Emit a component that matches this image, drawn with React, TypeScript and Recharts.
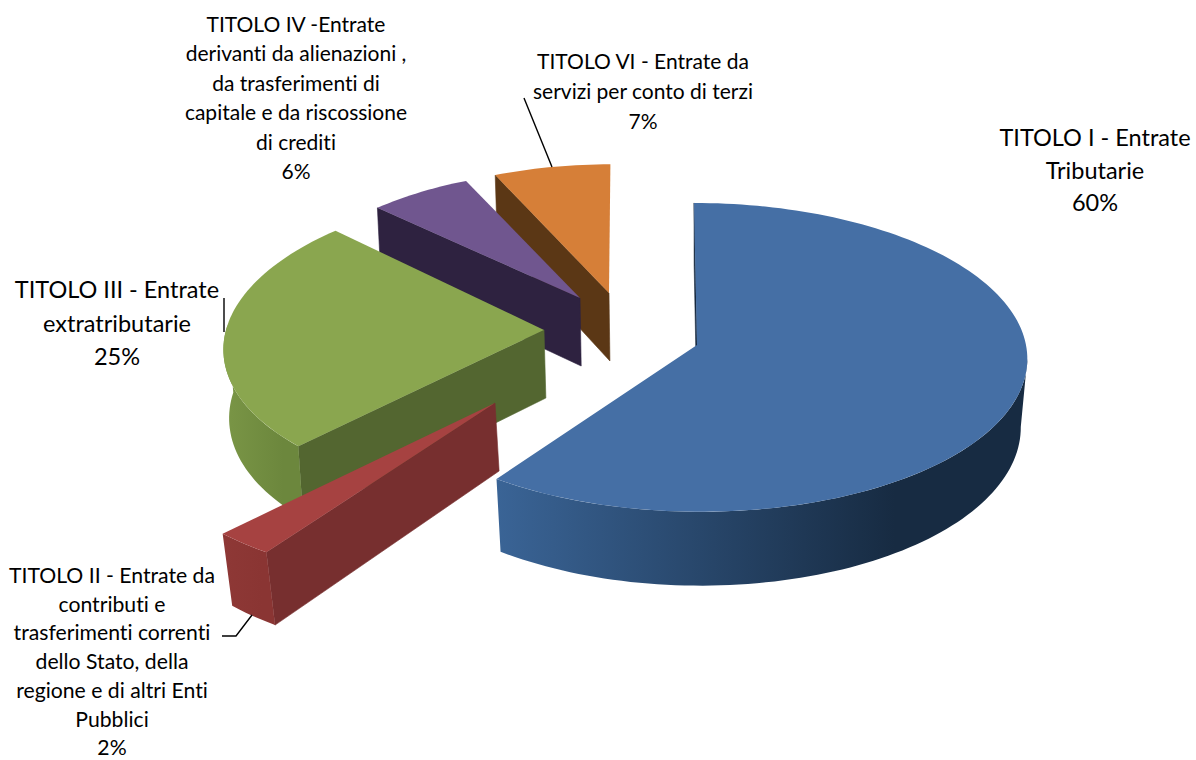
import React from "react";
import { PieChart, Pie } from "recharts";

const sliceNames = ["I", "II", "III", "IV", "VI"];
const sliceValues = [59.8, 2.4, 24.9, 6.1, 6.8];
const sliceLabels = [
  ["TITOLO I - Entrate", "Tributarie"],
  ["TITOLO II - Entrate da", "contributi e", "trasferimenti correnti", "dello Stato, della", "regione e di altri Enti", "Pubblici"],
  ["TITOLO III - Entrate", "extratributarie"],
  ["TITOLO IV -Entrate", "derivanti da alienazioni ,", "da trasferimenti di", "capitale e da riscossione", "di crediti"],
  ["TITOLO VI - Entrate da", "servizi per conto di terzi"],
];

const topColors = ["#456fa5", "#a64241", "#8aa64f", "#70568f", "#d67f38"];
const faceColors = ["#16293f", "#772f2f", "#536630", "#2e2240", "#5b3715"];
const wallFrom = ["#3a6496", "#8e3836", "#7a9646", "#2e2240", "#5b3715"];
const wallTo = ["#172b42", "#8a3533", "#6c873d", "#2e2240", "#5b3715"];

// Perspective of each exploded slice: apex, radius factors and skew
const apexX = [697, 495, 544, 580, 609];
const apexY = [345, 403, 330, 298, 293];
const radiusX = [329, 370, 318, 295, 298];
const radiusY = [153.4, 171, 152, 138, 139];
const skews = [40, 0, -190, 0, -19];
const vanishShare = [0.02, 0.02, 0.012, 0.01, 0.01];
const labelCenters = [1095, 112, 117, 296, 643];
const labelFirstY = [146, 583, 298, 32, 69];
const labelGaps = [32.5, 28.7, 33.5, 29.4, 30];
const labelSizes = [23.5, 21.2, 23.5, 21, 21];
const leaders = ["", "M222 636 L236 636 L252 615", "M224 298 L224 332", "", "M524 98 L552 167"];

const PERSPECTIVE = 0.08;
const DEPTH = 68;
const VANISH_X = 700;

const pieData = sliceNames
  .map((name, i) => ({ name, value: sliceValues[i], slot: i }))
  .reverse();

const rad = (d: number) => (d * Math.PI) / 180;

function project(slot: number, a: number, r: number) {
  const c = Math.cos(rad(a));
  const s = Math.sin(rad(a));
  const w = 1 + PERSPECTIVE * c * r;
  return {
    x: apexX[slot] + (radiusX[slot] * s * r) / w + skews[slot] * (1 / w - 1),
    y: apexY[slot] - (radiusY[slot] * c * r) / w,
    w,
  };
}

function lower(slot: number, p: { x: number; y: number; w: number }) {
  return { x: p.x + (VANISH_X - p.x) * vanishShare[slot], y: p.y + DEPTH / p.w };
}

const toPath = (pts: { x: number; y: number }[]) =>
  pts.map((p, i) => `${i ? "L" : "M"}${p.x.toFixed(2)} ${p.y.toFixed(2)}`).join(" ") + " Z";

function Slice3D(props: any) {
  const slot: number = props.slot ?? props.payload?.slot;
  const hi = 90 - props.startAngle;
  const lo = 90 - props.endAngle;
  const span = hi - lo;
  const a1 = ((lo % 360) + 360) % 360;
  const a2 = a1 + span;
  const rim = (from: number, to: number) => {
    const out = [];
    const n = Math.max(2, Math.ceil((to - from) / 1.5));
    for (let i = 0; i <= n; i++) out.push(project(slot, from + ((to - from) * i) / n, 1));
    return out;
  };
  const apex = project(slot, 0, 0);
  const top = [apex, ...rim(a1, a2)];
  const edge = project(slot, a1, 1);
  const face = [apex, edge, lower(slot, edge), lower(slot, apex)];
  const wFrom = Math.max(a1, 95);
  const wTo = Math.min(a2, 272);
  const upper = wTo > wFrom ? rim(wFrom, wTo) : [];
  const wall = upper.length ? [...upper, ...upper.slice().reverse().map((p) => lower(slot, p))] : [];
  const gid = `wall-${slot}`;
  return (
    <g>
      <defs>
        <linearGradient id={gid} x1="0" y1="0" x2="1" y2="0">
          <stop offset="0" stopColor={wallFrom[slot]} />
          <stop offset="0.75" stopColor={wallTo[slot]} />
          <stop offset="1" stopColor={wallTo[slot]} />
        </linearGradient>
      </defs>
      {Math.sin(rad(a1)) <= 1e-6 && (
        <path d={toPath(face)} fill={faceColors[slot]} stroke={faceColors[slot]} strokeWidth={0.6} />
      )}
      {wall.length > 0 && <path d={toPath(wall)} fill={`url(#${gid})`} />}
      <path d={toPath(top)} fill={topColors[slot]} />
    </g>
  );
}

function SliceLabel(props: any) {
  const slot: number = props.slot ?? props.payload?.slot;
  const pct = `${Math.round(props.percent * 100)}%`;
  const lines = [...sliceLabels[slot], pct];
  return (
    <g>
      {leaders[slot] && <path d={leaders[slot]} fill="none" stroke="#000" strokeWidth={1.4} />}
      <text
        textAnchor="middle"
        fontFamily="Lato, 'Open Sans', sans-serif"
        fontSize={labelSizes[slot]}
        fill="#000"
        style={{ fontVariantLigatures: "none" }}
      >
        {lines.map((t, i) => (
          <tspan key={i} x={labelCenters[slot]} y={labelFirstY[slot] + i * labelGaps[slot]}>
            {t}
          </tspan>
        ))}
      </text>
    </g>
  );
}

export default function App() {
  return (
    <div style={{ position: "absolute", left: 0, top: 0, width: 1196, height: 760, background: "#fff" }}>
      <PieChart width={1196} height={760} margin={{ top: 0, right: 0, bottom: 0, left: 0 }}>
        <Pie
          data={pieData}
          dataKey="value"
          nameKey="name"
          cx={620}
          cy={350}
          outerRadius={320}
          startAngle={90}
          endAngle={450}
          stroke="none"
          isAnimationActive={false}
          shape={Slice3D}
          activeShape={Slice3D}
          inactiveShape={Slice3D}
          label={SliceLabel}
          labelLine={false}
        />
      </PieChart>
    </div>
  );
}
